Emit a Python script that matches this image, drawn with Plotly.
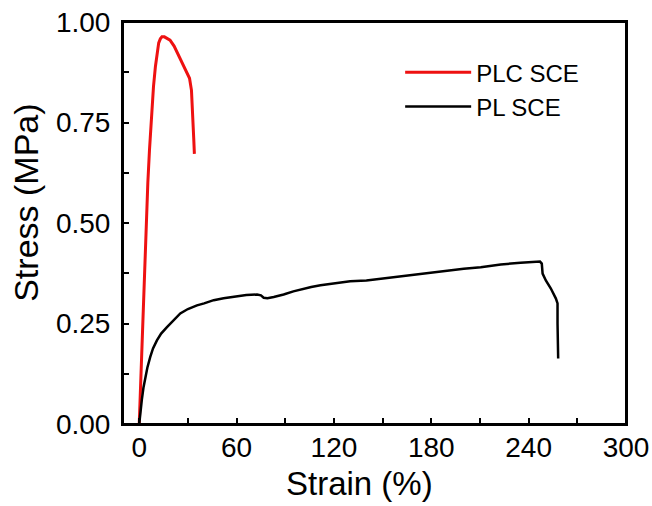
import plotly.graph_objects as go

# PLC SCE (red)
plc_strain = [0, 1.2, 2.7, 4.1, 5.3, 6.3, 7.5, 8.8, 10, 11, 12, 13, 14, 15.5, 17, 19,
              21.5, 24, 26.5, 29, 31, 32.2, 32.8, 33.2, 33.6, 34]
plc_stress = [0, 0.14, 0.31, 0.47, 0.6, 0.68, 0.76, 0.84, 0.89, 0.925, 0.948, 0.958,
              0.963, 0.963, 0.96, 0.955, 0.94, 0.92, 0.9, 0.88, 0.86, 0.83, 0.79, 0.75,
              0.71, 0.672]

# PL SCE (black)
pl_strain = [0, 0.8, 1.6, 2.6, 3.7, 5, 6.8, 8.5, 10.9, 13.5, 17.1, 21, 25.3, 30, 35.6,
             40, 45.9, 52, 60.3, 66, 72.6, 75, 76.7, 79, 82.9, 86, 89, 95, 101.4, 106,
             111.7, 120, 130, 140, 150, 160, 170, 180, 190, 200, 210.5, 222.8, 235,
             241, 247, 248.1, 248.6, 250.6, 253.7, 256.8, 257.8, 257.8, 258.2]
pl_stress = [0, 0.035, 0.06, 0.09, 0.117, 0.14, 0.167, 0.188, 0.208, 0.225, 0.241,
             0.258, 0.275, 0.286, 0.295, 0.3, 0.308, 0.313, 0.318, 0.321, 0.322, 0.32,
             0.314, 0.313, 0.316, 0.319, 0.322, 0.33, 0.337, 0.341, 0.345, 0.35, 0.355,
             0.357, 0.362, 0.367, 0.372, 0.377, 0.382, 0.386, 0.39, 0.397, 0.401,
             0.403, 0.404, 0.399, 0.374, 0.357, 0.337, 0.312, 0.3, 0.25, 0.163]

x_ticks = [0, 60, 120, 180, 240, 300]
y_ticks = [0.0, 0.25, 0.5, 0.75, 1.0]
y_tick_labels = ["0.00", "0.25", "0.50", "0.75", "1.00"]
x_title = "Strain (%)"
y_title = "Stress (MPa)"

FONT = "Arial, Liberation Sans, sans-serif"

fig = go.Figure()
fig.add_trace(go.Scatter(x=plc_strain, y=plc_stress, mode="lines", name="PLC SCE",
                         line=dict(color="#ee1111", width=3)))
fig.add_trace(go.Scatter(x=pl_strain, y=pl_stress, mode="lines", name="PL SCE",
                         line=dict(color="#000000", width=2.5)))

axis_common = dict(
    showline=True, linecolor="black", linewidth=2, mirror=True,
    ticks="inside", ticklen=6, tickwidth=2, tickcolor="black",
    showgrid=False, zeroline=False, automargin=False,
    ticklabeloverflow="allow",
    tickfont=dict(family=FONT, size=28, color="black"),
)

fig.update_xaxes(
    range=[-10, 300], tickvals=x_ticks, ticktext=[str(v) for v in x_ticks],
    minor=dict(dtick=30, tick0=0, ticks="inside", ticklen=6, tickwidth=2, tickcolor="black"),
    ticklabelstandoff=-3,
    **axis_common,
)
fig.update_yaxes(
    range=[0, 1.0], tickvals=y_ticks, ticktext=y_tick_labels,
    minor=dict(dtick=0.125, tick0=0, ticks="inside", ticklen=6, tickwidth=2, tickcolor="black"),
    ticklabelstandoff=5,
    **axis_common,
)

# plot frame (closed box)
fig.add_shape(type="rect", xref="paper", yref="paper", x0=0, x1=1, y0=0, y1=1,
              line=dict(color="black", width=2), fillcolor="rgba(0,0,0,0)", layer="above")

# axis titles placed as text annotations (positions matched to the reference)
fig.add_annotation(text=x_title, xref="paper", yref="paper", x=0.471, y=-0.149,
                   xanchor="center", yanchor="middle", showarrow=False,
                   font=dict(family=FONT, size=33, color="black"))
fig.add_annotation(text=y_title, xref="paper", yref="paper", x=-0.193, y=0.55,
                   xanchor="center", yanchor="middle", showarrow=False, textangle=-90,
                   font=dict(family=FONT, size=34, color="black"))

fig.update_layout(
    width=652, height=506,
    margin=dict(l=123, r=26, t=22, b=82),
    plot_bgcolor="white", paper_bgcolor="white",
    font=dict(family=FONT, color="black"),
    showlegend=True,
    legend=dict(x=0.551, y=0.93, xanchor="left", yanchor="top",
                bgcolor="rgba(0,0,0,0)", borderwidth=0,
                font=dict(family=FONT, size=24, color="black"),
                itemwidth=66, tracegroupgap=0),
)

fig.write_html(
    "out.html",
    config={"displayModeBar": False},
    post_script="document.body.style.margin='0';document.body.style.overflow='hidden';",
)
